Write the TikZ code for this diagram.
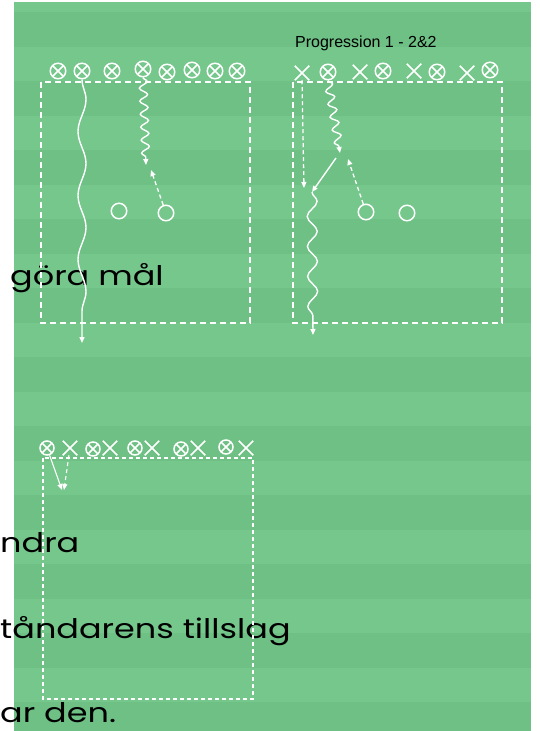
\documentclass[tikz,border=0pt]{standalone}
\usepackage{fontspec}
\setmainfont{Poppins}
\newfontfamily\bodyfont[FakeStretch=1.24]{Poppins}
\newfontfamily\titlefont{Liberation Sans}
\usetikzlibrary{arrows.meta,decorations.pathmorphing,shapes.misc}

\definecolor{pitchLight}{RGB}{117,199,139}
\definecolor{pitchDark}{RGB}{110,192,133}

\begin{document}
\begin{tikzpicture}[
        x=1pt, y=-1pt,
        >={Triangle[length=6pt, width=5pt]},
        every node/.style={inner sep=0pt},
        attacker/.style={circle, draw=white, line width=1.5pt, minimum size=15.5pt,
            path picture={\draw[white, line width=1.5pt]
                (path picture bounding box.north west) -- (path picture bounding box.south east)
                (path picture bounding box.north east) -- (path picture bounding box.south west);}},
        defender/.style={cross out, draw=white, line width=1.5pt, minimum size=13pt},
        coneMark/.style={circle, draw=white, line width=1.5pt, minimum size=15.5pt},
        zoneLine/.style={white, dash pattern=on 6pt off 4pt, line width=1.8pt},
        zoneThin/.style={white, dash pattern=on 4pt off 3pt, line width=1.2pt},
        passLine/.style={->, white, dash pattern=on 4pt off 3pt, line width=1.3pt},
        runLine/.style={->, white, line width=1.4pt},
        dribbleLine/.style={->, white, line width=1.4pt, decorate,
            decoration={snake, amplitude=4pt, segment length=13pt, post length=5pt}},
        carryLine/.style={->, white, line width=1.4pt, decorate,
            decoration={snake, amplitude=4pt, segment length=64pt, post length=5pt}},
        textLine/.style={anchor=base west, font=\bodyfont\fontsize{27pt}{31pt}\selectfont}
    ]
        % Pitch with stripes
        \useasboundingbox (0,0) rectangle (539,731);
        \fill[white] (0,0) rectangle (539,731);
        \fill[pitchLight] (14,2) rectangle (531,731);
        \foreach \y in {12,81,...,702}
            \fill[pitchDark] (14,\y) rectangle (531,{min(\y+35,731)});

        % Text running in from the left
        \node[textLine] (txtA) at (10,285) {göra mål};
        \node[textLine] (txtB) at (0,552) {ndra};
        \node[textLine] (txtC) at (0,638) {tåndarens tillslag};
        \node[textLine] (txtD) at (0,722) {ar den.};

        % Top left drill
        \draw[zoneLine] (41,82) rectangle (250,323);
        \node[attacker] (a1) at (58,71) {};
        \node[attacker] (a2) at (82,71) {};
        \node[attacker] (a3) at (112,71) {};
        \node[attacker] (a4) at (143,69) {};
        \node[attacker] (a5) at (167,72) {};
        \node[attacker] (a6) at (192,70) {};
        \node[attacker] (a7) at (215,71) {};
        \node[attacker] (a8) at (237,71) {};
        \node[coneMark] (c1) at (119,211) {};
        \node[coneMark] (c2) at (166,213) {};

        \coordinate (carryEnd) at (82,343);
        \coordinate (dribEnd) at (146,165);
        \coordinate (passEnd) at (151,170);
        \draw[carryLine] (a2.south) -- (carryEnd);
        \draw[dribbleLine] (a4.south) -- (dribEnd);
        \draw[passLine] (c2) -- (passEnd);

        % Top right drill
        \node[anchor=base west, font=\titlefont\fontsize{16pt}{18pt}\selectfont] (title) at (295,47) {Progression 1 - 2\&2};
        \draw[zoneLine] (293,82) rectangle (502,323);
        \node[defender] (d1) at (302,73) {};
        \node[attacker] (b1) at (328,72) {};
        \node[defender] (d2) at (360,72) {};
        \node[attacker] (b2) at (383,71) {};
        \node[defender] (d3) at (414,71) {};
        \node[attacker] (b3) at (437,72) {};
        \node[defender] (d4) at (467,73) {};
        \node[attacker] (b4) at (490,70) {};
        \node[coneMark] (c3) at (366,212) {};
        \node[coneMark] (c4) at (407,213) {};

        \coordinate (runEnd) at (304,188);
        \coordinate (dribEndB) at (340,153);
        \coordinate (shotStart) at (336,158);
        \coordinate (shotEnd) at (312,192);
        \coordinate (passEndB) at (348,159);
        \coordinate (carryEndB) at (313,335);
        \draw[passLine] (d1.south) -- (runEnd);
        \draw[dribbleLine] (b1.south) -- (dribEndB);
        \draw[runLine] (shotStart) -- (shotEnd);
        \draw[passLine] (c3) -- (passEndB);
        \draw[carryLine, decoration={segment length=30pt, amplitude=5pt}] (shotEnd) -- (carryEndB);

        % Bottom drill
        \draw[zoneThin] (43,458) rectangle (253,699);
        \node[attacker, minimum size=14pt] (e1) at (47,448) {};
        \node[defender] (f1) at (70,448) {};
        \node[attacker, minimum size=14pt] (e2) at (93,449) {};
        \node[defender] (f2) at (110,448) {};
        \node[attacker, minimum size=14pt] (e3) at (135,448) {};
        \node[defender] (f3) at (152,448) {};
        \node[attacker, minimum size=14pt] (e4) at (181,449) {};
        \node[defender] (f4) at (198,448) {};
        \node[attacker, minimum size=14pt] (e5) at (226,447) {};
        \node[defender] (f5) at (246,448) {};

        \coordinate (meetA) at (62,490);
        \coordinate (meetB) at (64,490);
        \draw[runLine, line width=1.1pt] (e1) -- (meetA);
        \draw[passLine, line width=1.1pt] (f1) -- (meetB);

    \end{tikzpicture}
\end{document}
